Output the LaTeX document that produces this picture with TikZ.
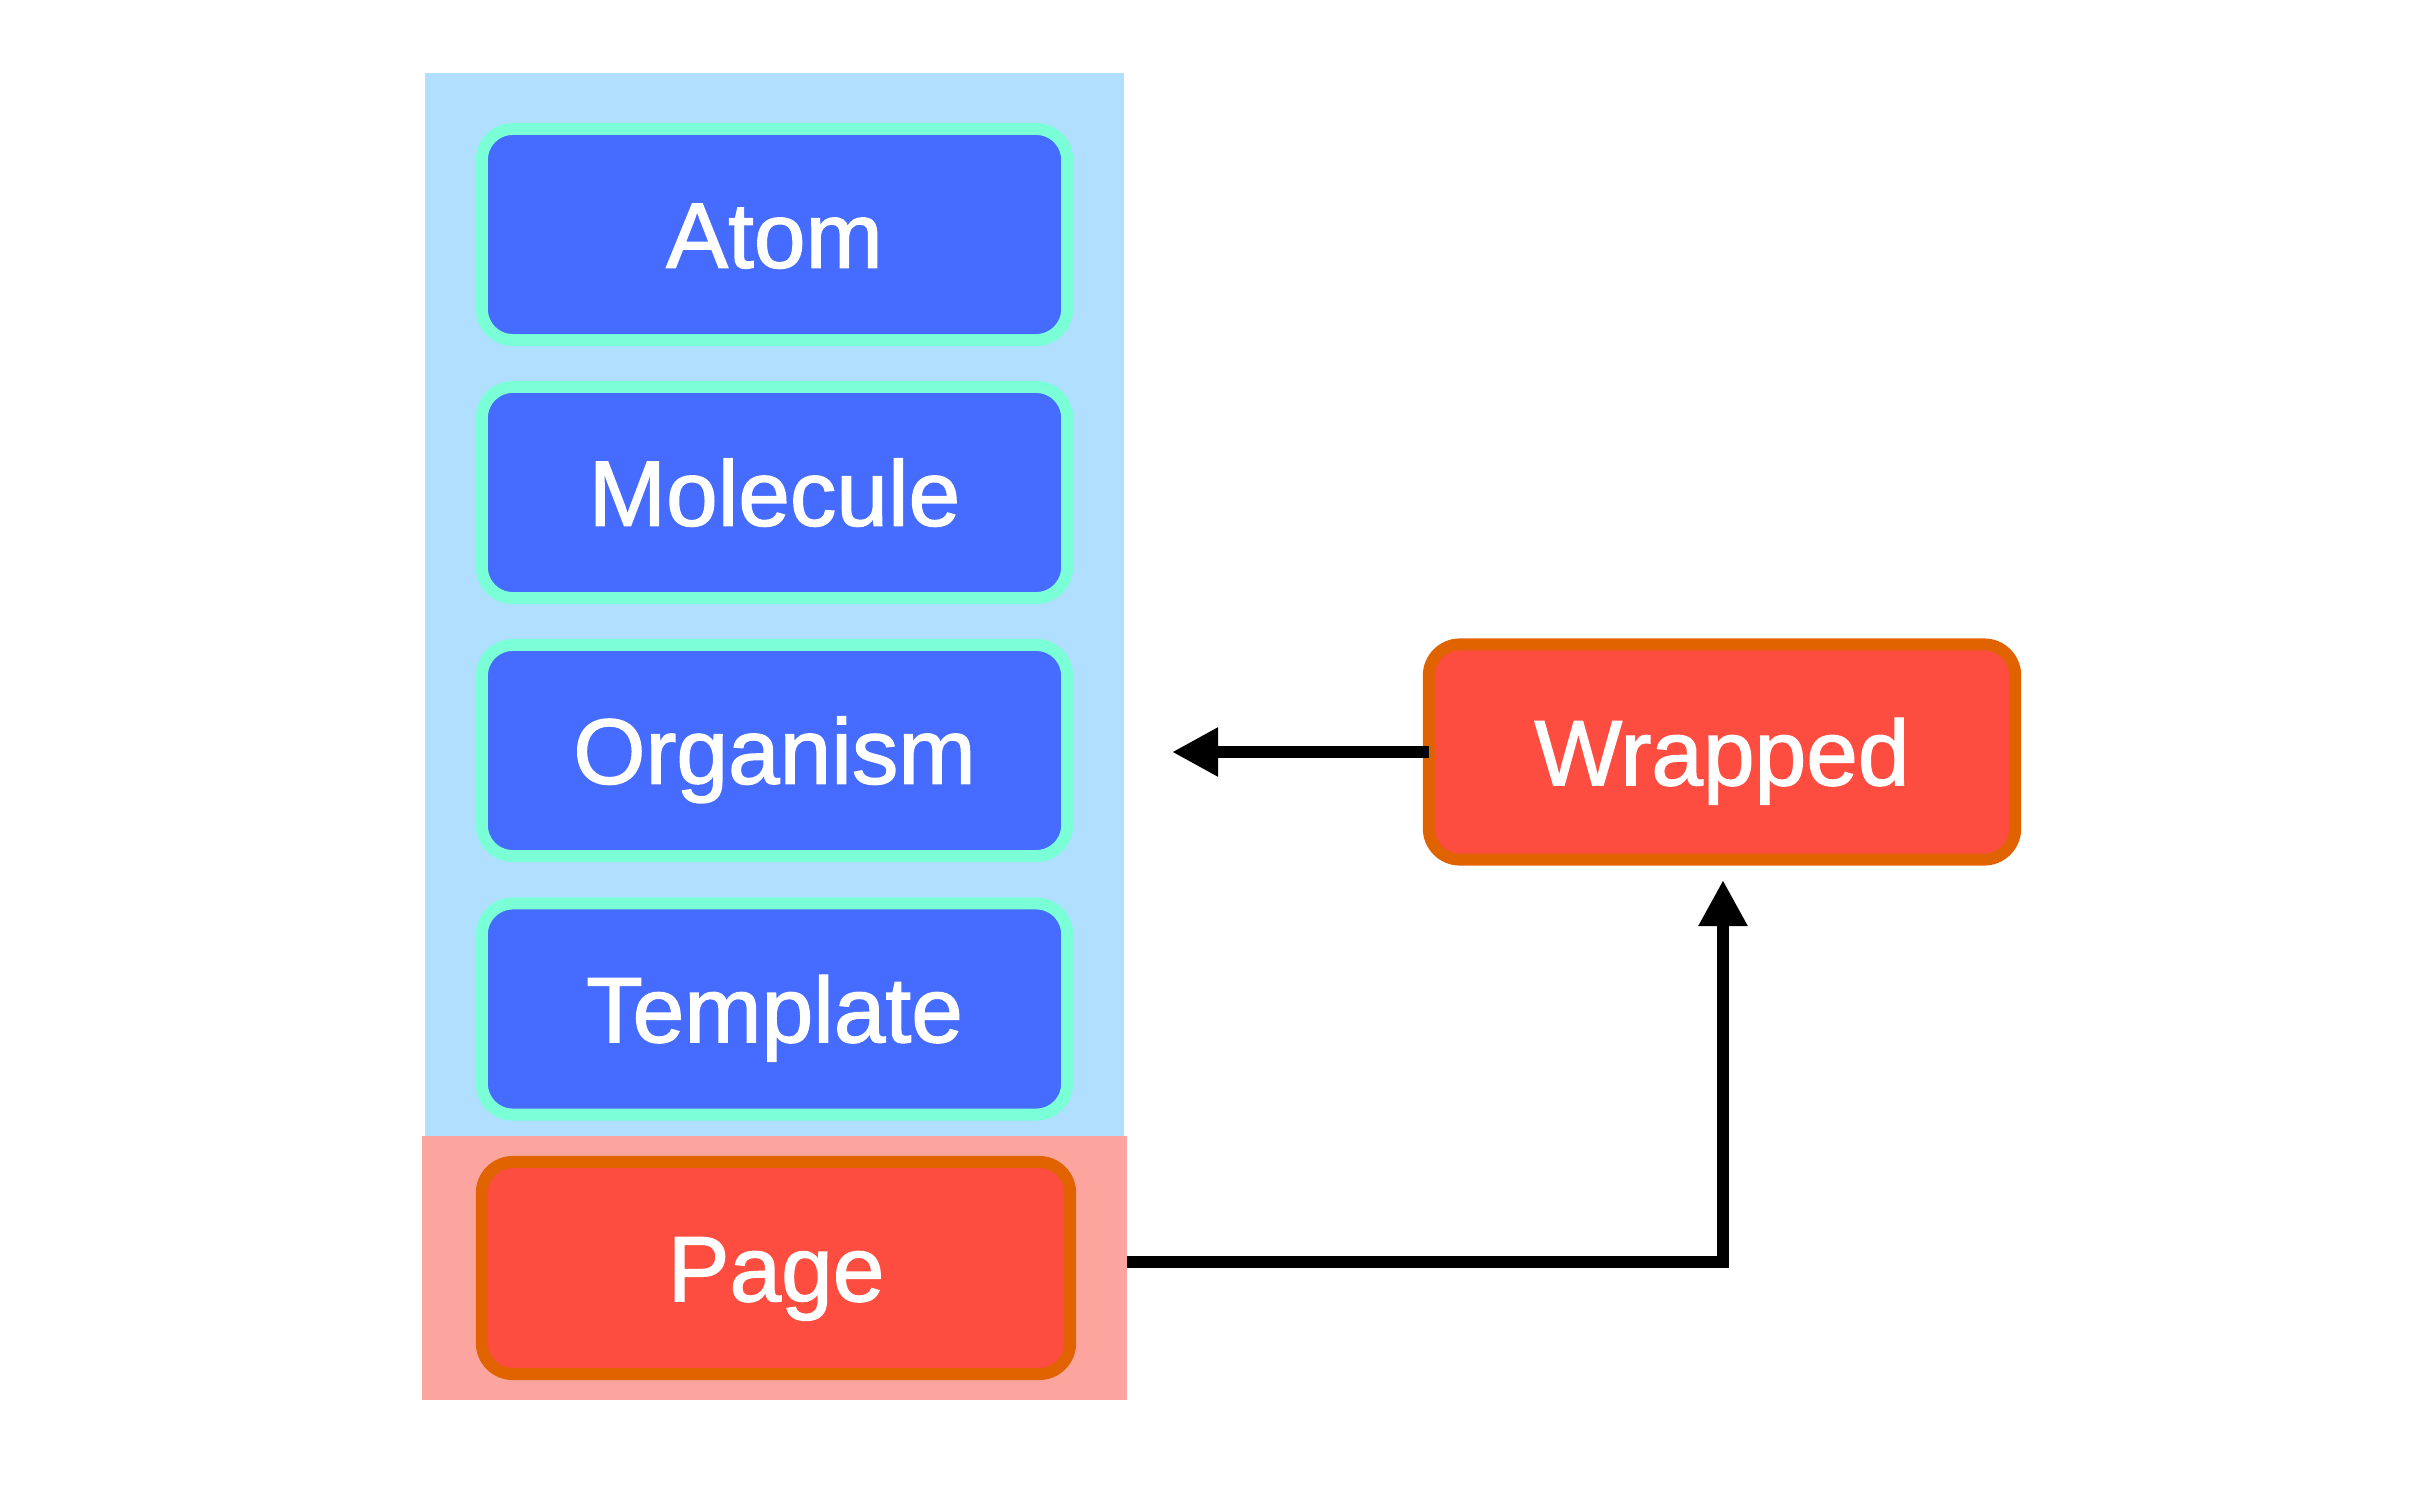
\documentclass[tikz,border=0pt]{standalone}
\usepackage{fontspec}
\setmainfont{Liberation Sans}
\newfontfamily\labelfont[FakeBold=1.5]{Liberation Sans}
\usetikzlibrary{arrows.meta}
\definecolor{panelblue}{RGB}{177,223,255}
\definecolor{panelpink}{RGB}{252,165,159}
\definecolor{boxblue}{RGB}{69,107,255}
\definecolor{boxteal}{RGB}{122,255,214}
\definecolor{boxred}{RGB}{253,76,64}
\definecolor{boxorange}{RGB}{224,99,0}
\tikzset{
  panel/.style={draw=none, inner sep=0pt, outer sep=0pt},
  labeltext/.style={text=white, font=\labelfont\fontsize{26.4}{30}\selectfont,
    text height=18.9pt, text depth=0pt},
  levelbox/.style={rectangle, rounded corners=0.31cm, fill=boxblue, draw=boxteal, line width=0.12cm,
    minimum width=5.85cm, minimum height=2.11cm, inner sep=0pt, outer sep=0pt, labeltext},
  redbox/.style={rectangle, rounded corners=0.31cm, fill=boxred, draw=boxorange, line width=0.12cm,
    minimum height=2.12cm, inner sep=0pt, outer sep=0pt, labeltext},
  conn/.style={line width=0.12cm, -{Triangle[length=0.46cm, width=0.46cm]}}
}
\begin{document}
\begin{tikzpicture}[x=0.01cm, y=-0.01cm]
\useasboundingbox (0,0) rectangle (2434,1488);
\node[panel, fill=panelblue, minimum width=6.99cm, minimum height=10.63cm] (stack) at (774.5,604.5) {};
\node[panel, fill=panelpink, minimum width=7.05cm, minimum height=2.64cm] (pagepanel) at (774.5,1268) {};
\node[levelbox] (atom) at (774.5,234.5) {Atom};
\node[levelbox] (molecule) at (774.5,492.5) {Molecule};
\node[levelbox] (organism) at (774.5,750.5) {Organism};
\node[levelbox] (template) at (774.5,1009) {Template};
\node[redbox, minimum width=5.88cm] (page) at (776,1268) {Page};
\node[redbox, minimum width=5.86cm, minimum height=2.15cm] (wrapped) at (1722,752) {Wrapped};
\coordinate (leftend) at (1172,752);
\coordinate (corner) at (1723,1262);
\coordinate (upend) at (1723,880);
\draw[conn] (wrapped.west) -- (wrapped.west -| leftend);
\draw[conn] (pagepanel.east |- corner) -- (corner) -- (upend);
\end{tikzpicture}
\end{document}
